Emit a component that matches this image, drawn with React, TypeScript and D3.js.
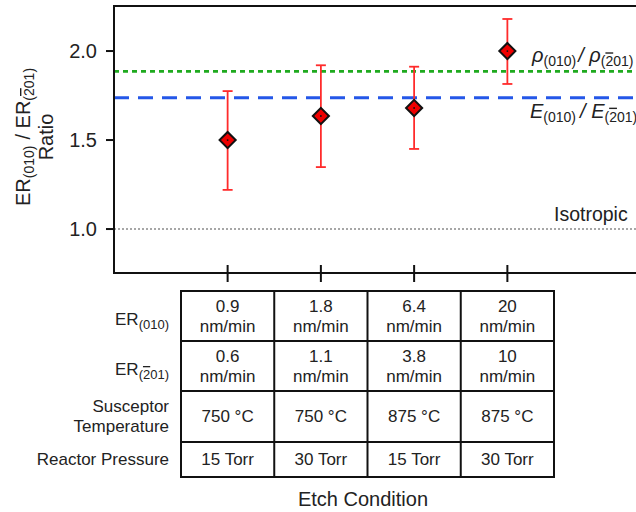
import React, { useEffect, useRef } from "react";
import * as d3 from "d3";

// etch conditions (one column of the table each)
const conditions = ["C1", "C2", "C3", "C4"];
const ratios = [1.5, 1.635, 1.68, 2.0];
const errLow = [1.22, 1.348, 1.45, 1.815];
const errHigh = [1.775, 1.92, 1.912, 2.18];
const yTicks = [1.0, 1.5, 2.0];

// reference lines
const rhoRatio = 1.886;
const modulusRatio = 1.738;
const isotropic = 1.0;

// table contents
const er010 = ["0.9", "1.8", "6.4", "20"];
const er201 = ["0.6", "1.1", "3.8", "10"];
const temps = ["750 °C", "750 °C", "875 °C", "875 °C"];
const pressures = ["15 Torr", "30 Torr", "15 Torr", "30 Torr"];

const FONT = "'Liberation Sans', Arial, sans-serif";

// writes "(2̄01)" with a real overline on the 2
const barPlane = (sel: any, size: number, dy: number, upright = false) => {
  const parts = [
    sel.append("tspan").attr("font-size", size).attr("dy", dy).text("("),
    sel.append("tspan").attr("font-size", size).style("text-decoration", "overline").text("2"),
    sel.append("tspan").attr("font-size", size).text("01)"),
  ];
  if (upright) parts.forEach((p) => p.attr("font-style", "normal"));
};

const App = () => {
  const ref = useRef<SVGSVGElement>(null);

  useEffect(() => {
    const svg = d3.select(ref.current);
    svg.selectAll("*").remove();
    const W = 636;
    const plot = { left: 114, top: 6, bottom: 273 };

    const y = d3.scaleLinear().domain([0.753, 2.253]).range([plot.bottom, plot.top]);
    const x = d3.scaleBand().domain(conditions).range([181, 554]).padding(0);
    const cx = (c: string) => (x(c) as number) + x.bandwidth() / 2;

    const g = svg.append("g").attr("font-family", FONT);

    // reference lines
    g.append("line")
      .attr("x1", plot.left).attr("x2", W)
      .attr("y1", y(isotropic)).attr("y2", y(isotropic))
      .attr("stroke", "#8a8a8a").attr("stroke-width", 1.6)
      .attr("stroke-dasharray", "2,2");
    g.append("line")
      .attr("x1", plot.left).attr("x2", W)
      .attr("y1", y(rhoRatio)).attr("y2", y(rhoRatio))
      .attr("stroke", "#1faa1f").attr("stroke-width", 2.6)
      .attr("stroke-dasharray", "5,4");
    g.append("line")
      .attr("x1", plot.left).attr("x2", W)
      .attr("y1", y(modulusRatio)).attr("y2", y(modulusRatio))
      .attr("stroke", "#2457e8").attr("stroke-width", 3)
      .attr("stroke-dasharray", "15,9");

    // frame
    g.append("rect")
      .attr("x", plot.left).attr("y", plot.top)
      .attr("width", 560).attr("height", plot.bottom - plot.top)
      .attr("fill", "none").attr("stroke", "#111").attr("stroke-width", 2);

    // y ticks
    const yt = g.append("g");
    yt.selectAll("line").data(yTicks).join("line")
      .attr("x1", plot.left - 8).attr("x2", plot.left)
      .attr("y1", (d) => y(d)).attr("y2", (d) => y(d))
      .attr("stroke", "#111").attr("stroke-width", 2);
    yt.selectAll("text").data(yTicks).join("text")
      .attr("x", 97).attr("y", (d) => y(d) + 7)
      .attr("text-anchor", "end").attr("font-size", 20).attr("fill", "#222")
      .text((d) => d3.format(".1f")(d));

    // x ticks
    g.append("g").selectAll("line").data(conditions).join("line")
      .attr("x1", cx).attr("x2", cx)
      .attr("y1", plot.bottom - 8).attr("y2", plot.bottom + 9)
      .attr("stroke", "#111").attr("stroke-width", 2);

    // error bars
    const eb = g.append("g").attr("stroke", "#ff2b2b").attr("stroke-width", 1.8);
    conditions.forEach((c, i) => {
      const px = cx(c);
      eb.append("line").attr("x1", px).attr("x2", px).attr("y1", y(errLow[i])).attr("y2", y(errHigh[i]));
      eb.append("line").attr("x1", px - 5).attr("x2", px + 5).attr("y1", y(errLow[i])).attr("y2", y(errLow[i]));
      eb.append("line").attr("x1", px - 5).attr("x2", px + 5).attr("y1", y(errHigh[i])).attr("y2", y(errHigh[i]));
    });

    // diamond markers
    const sq = d3.symbol().type(d3.symbolSquare).size(130);
    g.append("g").selectAll("path").data(conditions).join("path")
      .attr("d", sq)
      .attr("transform", (c, i) => `translate(${cx(c)},${y(ratios[i])}) rotate(45)`)
      .attr("fill", "#ee0000").attr("stroke", "#111").attr("stroke-width", 2);
    g.append("g").selectAll("circle").data(conditions).join("circle")
      .attr("cx", cx).attr("cy", (c, i) => y(ratios[i])).attr("r", 0.9).attr("fill", "#111");

    // right-hand labels
    const rho = g.append("text").attr("x", 532).attr("y", y(rhoRatio) - 9)
      .attr("font-size", 20).attr("font-style", "italic").attr("fill", "#222");
    rho.append("tspan").text("ρ");
    rho.append("tspan").attr("font-size", 14).attr("font-style", "normal").attr("dy", 4).text("(010)");
    rho.append("tspan").attr("dy", -4).attr("dx", 2).text("/ ρ");
    barPlane(rho, 14, 4, true);

    const mod = g.append("text").attr("x", 530).attr("y", y(modulusRatio) + 20)
      .attr("font-size", 20).attr("font-style", "italic").attr("fill", "#222");
    mod.append("tspan").text("E");
    mod.append("tspan").attr("font-size", 14).attr("font-style", "normal").attr("dy", 4).text("(010)");
    mod.append("tspan").attr("dy", -4).attr("dx", 4).text("/ E");
    barPlane(mod, 14, 4, true);

    g.append("text").attr("x", 554).attr("y", y(isotropic) - 8)
      .attr("font-size", 19.5).attr("fill", "#222").text("Isotropic");

    // y axis title
    const yl = g.append("g").attr("transform", "translate(0,137) rotate(-90)").attr("fill", "#222");
    const l1 = yl.append("text").attr("x", 0).attr("y", 30).attr("text-anchor", "middle").attr("font-size", 20);
    l1.append("tspan").text("ER");
    l1.append("tspan").attr("font-size", 14).attr("dy", 4).text("(010)");
    l1.append("tspan").attr("dy", -4).attr("dx", 6).text("/ ER");
    barPlane(l1, 14, 4);
    yl.append("text").attr("x", 0).attr("y", 53).attr("text-anchor", "middle").attr("font-size", 20).text("Ratio");

    // table
    const rowEdges = [291, 341, 391, 442, 477];
    const tx0 = x(conditions[0]) as number;
    const tx1 = (x(conditions[conditions.length - 1]) as number) + x.bandwidth();
    const tbl = g.append("g");
    rowEdges.forEach((ry) => {
      tbl.append("line").attr("x1", tx0 - 1).attr("x2", tx1 + 1).attr("y1", ry).attr("y2", ry)
        .attr("stroke", "#111").attr("stroke-width", 2);
    });
    [...conditions.map((c) => x(c) as number), tx1].forEach((vx) => {
      tbl.append("line").attr("x1", vx).attr("x2", vx).attr("y1", rowEdges[0]).attr("y2", rowEdges[rowEdges.length - 1])
        .attr("stroke", "#111").attr("stroke-width", 2);
    });

    const cell = (txt: string, px: number, py: number) =>
      tbl.append("text").attr("x", px).attr("y", py).attr("text-anchor", "middle")
        .attr("font-size", 17).attr("fill", "#222").text(txt);
    conditions.forEach((c, i) => {
      const px = cx(c);
      cell(er010[i], px, 312);
      cell("nm/min", px, 332);
      cell(er201[i], px, 362);
      cell("nm/min", px, 382);
      cell(temps[i], px, 422);
      cell(pressures[i], px, 465);
    });

    const lab = (py: number) =>
      tbl.append("text").attr("x", 169).attr("y", py).attr("text-anchor", "end")
        .attr("font-size", 17).attr("fill", "#222");
    const r1 = lab(325);
    r1.append("tspan").text("ER");
    r1.append("tspan").attr("font-size", 13).attr("dy", 4).text("(010)");
    const r2 = lab(375);
    r2.append("tspan").text("ER");
    barPlane(r2, 13, 4);
    lab(412).text("Susceptor");
    lab(432).text("Temperature");
    lab(465).text("Reactor Pressure");

    g.append("text").attr("x", 363).attr("y", 506).attr("text-anchor", "middle")
      .attr("font-size", 20).attr("fill", "#222").text("Etch Condition");
  }, []);

  return (
    <svg
      ref={ref}
      width={636}
      height={512}
      style={{ position: "absolute", left: 0, top: 0, background: "#fff" }}
    />
  );
};

export default App;
